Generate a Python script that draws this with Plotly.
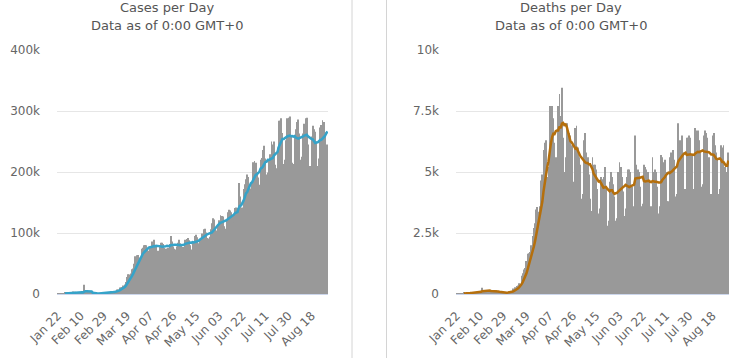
import pandas as pd
import plotly.graph_objects as go

# ---------------- data ----------------
start_date = "2020-01-22"
end_date = "2020-08-31"

# daily new cases (thousands)
cases_k = [
    # Jan 22-31
    0.1, 0.3, 0.3, 0.7, 0.7, 1.4, 1.7, 1.5, 1.7, 2.0,
    # Feb
    2.1, 2.6, 3.2, 3.9, 3.7, 3.2, 3.4, 2.7, 3.0, 2.5, 2.0, 2.0, 15.1, 5.1, 2.6,
    2.0, 1.9, 1.8, 0.4, 0.6, 1.0, 1.0, 0.6, 0.6, 0.9, 1.0, 1.3, 1.4, 1.8,
    # Mar
    2.3, 1.9, 2.5, 2.3, 2.9, 3.9, 4.0, 3.9, 4.0, 4.6, 7.2, 7.5, 10.8, 11.0, 11.0,
    14.0, 15.5, 19.5, 28.0, 32.5, 32.0, 33.5, 40.5, 42.0, 49.5, 62.0, 63.5, 64.0, 58.5, 60.0, 74.0,
    # Apr
    76, 80, 80.5, 80, 72, 71, 78, 74, 86, 89, 77, 77, 71, 71, 78,
    84, 84, 82, 76, 74, 74, 76, 82, 95, 86, 78, 74, 73, 78, 84,
    # May
    89, 83, 79, 77, 75, 89, 90, 92, 88, 80, 73, 84, 85, 95, 97,
    93, 83, 87, 92, 99, 106, 107, 101, 92, 91, 94, 106, 116, 124, 122, 108,
    # Jun
    104, 110, 121, 129, 128, 127, 111, 107, 123, 134, 138, 137, 134, 128, 117,
    141, 142, 141, 182, 160, 132, 142, 172, 180, 188, 196, 192, 173, 170, 183,
    # Jul
    216, 218, 215, 200, 191, 179, 220, 223, 236, 243, 222, 196, 199, 220, 229,
    250, 245, 250, 212, 206, 240, 284, 284, 288, 264, 213, 220, 252, 288, 289, 291,
    # Aug
    258, 215, 213, 259, 270, 282, 286, 263, 220, 225, 263, 279, 288, 289, 245,
    209, 210, 258, 276, 270, 266, 250, 210, 222, 273, 277, 285, 282, 265, 238, 245,
]

# 7-day moving average of cases (thousands), first 6 days empty
cases_ma_k = [None] * 6 + [
    0.7, 0.9, 1.1, 1.4,
    1.6, 1.9, 2.1, 2.4, 2.7, 3.0, 3.2, 3.2, 3.3, 3.2, 2.9, 2.7, 4.4, 4.6, 4.6,
    4.5, 4.4, 4.4, 4.1, 2.1, 1.5, 1.2, 1.0, 0.9, 0.7, 0.8, 0.9, 1.0, 1.1,
    1.3, 1.5, 1.7, 1.9, 2.2, 2.5, 2.8, 3.1, 3.4, 3.7, 4.4, 5.0, 6.0, 7.0, 8.0,
    9.4, 11.0, 12.8, 15.7, 18.8, 21.8, 25.0, 28.8, 32.6, 36.9, 41.7, 46.1, 50.7, 54.3, 57.1, 61.6,
    65.4, 68.0, 70.4, 72.7, 74.6, 76.2, 76.8, 76.5, 77.4, 78.6, 78.1, 78.9, 78.9, 77.9, 78.4,
    78.1, 77.4, 78.1, 78.0, 78.4, 78.9, 78.6, 78.3, 79.9, 80.4, 80.7, 80.7, 80.6, 80.9, 81.1,
    80.3, 79.9, 80.0, 80.4, 80.7, 82.3, 83.1, 83.6, 84.3, 84.4, 83.9, 85.1, 84.6, 85.3, 86.0,
    86.7, 87.1, 89.1, 90.3, 92.3, 93.9, 95.3, 96.4, 97.7, 98.3, 98.6, 99.6, 101.0, 103.4, 106.4, 108.7,
    110.6, 112.9, 115.0, 116.9, 117.4, 118.1, 118.6, 119.0, 120.9, 122.7, 124.0, 125.3, 126.3, 128.7, 130.1,
    132.7, 133.9, 134.3, 140.7, 144.4, 145.0, 148.6, 153.0, 158.4, 165.1, 167.2, 171.7, 177.6, 181.6, 183.1,
    188.3, 192.6, 195.3, 196.4, 199.0, 200.3, 205.6, 206.6, 209.1, 213.1, 216.3, 217.0, 219.9, 219.8, 220.7,
    222.7, 223.0, 227.0, 229.3, 230.3, 233.1, 241.0, 245.9, 252.0, 254.0, 254.1, 256.1, 257.9, 258.4, 259.1, 259.6,
    258.7, 259.0, 258.0, 259.0, 256.4, 255.4, 254.7, 255.4, 256.1, 257.9, 258.4, 259.7, 260.6, 261.0, 258.4,
    256.9, 254.7, 254.0, 253.6, 251.0, 247.7, 248.4, 248.6, 250.3, 252.4, 252.6, 254.7, 257.0, 259.1, 263.1, 266.4,
]

# daily new deaths
deaths = [
    # Jan 22-31
    17, 1, 8, 16, 14, 26, 49, 2, 38, 43,
    # Feb
    46, 57, 64, 65, 73, 73, 86, 89, 97, 108, 97, 254, 121, 143, 142,
    106, 98, 136, 115, 118, 109, 97, 150, 71, 52, 29, 44, 37, 58,
    # Mar
    73, 66, 72, 84, 80, 103, 103, 228, 201, 273, 330, 350, 442, 421, 750,
    850, 1000, 1070, 1350, 1650, 1670, 1720, 2000, 2380, 2700, 2900, 3460, 3570, 3370, 3600, 4650,
    # Apr
    4900, 5900, 6200, 6300, 4800, 5200, 7700, 7100, 7700, 7200, 6200, 5600, 5400, 7700, 8200,
    7300, 8450, 6400, 5000, 5600, 7000, 6700, 6600, 6500, 6100, 4400, 4600, 6800, 6900, 6000,
    # May
    5600, 5300, 3900, 4100, 6300, 6600, 5800, 5600, 4900, 3900, 3400, 5600, 5300, 5300, 5100,
    4300, 3300, 3500, 4800, 4700, 4800, 5200, 4400, 2800, 3000, 4600, 5000, 4800, 4500, 4000, 3000,
    # Jun
    3100, 5000, 5400, 5200, 4800, 4200, 3200, 3500, 4800, 5100, 5100, 5000, 4400, 3400, 3600,
    6500, 5300, 5100, 5000, 4400, 3600, 3700, 5300, 5200, 5100, 5000, 4600, 3300, 3600, 5600,
    # Jul
    5000, 5100, 5000, 4400, 3300, 3600, 5700, 5600, 5400, 5500, 5000, 3800, 3800, 5600, 5800,
    5700, 5900, 5500, 4000, 4100, 7000, 6300, 6300, 6500, 5800, 4300, 4300, 6400, 6400, 6500, 6400,
    # Aug
    5700, 4200, 4300, 6800, 6700, 6700, 6300, 5800, 4400, 4500, 6500, 6700, 6600, 6400, 5600,
    4100, 4100, 6500, 6600, 6100, 5800, 5500, 4100, 4300, 6100, 6000, 6100, 5200, 5000, 4100, 5800,
]

# 7-day moving average of deaths, first 6 days empty
deaths_ma = [None] * 6 + [
    19, 17, 22, 27,
    31, 37, 43, 45, 55, 60, 66, 72, 78, 84, 89, 115, 122, 130, 137,
    139, 137, 143, 123, 123, 118, 111, 118, 114, 102, 89, 79, 69, 63,
    52, 51, 54, 62, 67, 77, 83, 105, 124, 153, 188, 227, 275, 321, 395,
    488, 592, 698, 840, 1013, 1191, 1330, 1494, 1691, 1924, 2146, 2404, 2676, 2911, 3140, 3464,
    3779, 4207, 4599, 4989, 5193, 5421, 5857, 6171, 6429, 6571, 6557, 6671, 6700, 6700, 6857,
    6800, 6979, 7007, 6921, 6950, 6850, 6636, 6536, 6257, 6214, 6129, 5986, 5957, 5986, 5900,
    5771, 5657, 5586, 5514, 5443, 5400, 5371, 5371, 5314, 5314, 5214, 5114, 4929, 4857, 4786,
    4700, 4614, 4629, 4514, 4429, 4357, 4371, 4386, 4314, 4243, 4214, 4257, 4257, 4157, 4100, 4129,
    4143, 4200, 4257, 4314, 4357, 4386, 4414, 4471, 4443, 4400, 4386, 4414, 4443, 4471, 4486,
    4729, 4757, 4757, 4757, 4757, 4786, 4800, 4629, 4614, 4614, 4614, 4643, 4600, 4586, 4629,
    4600, 4600, 4600, 4571, 4571, 4571, 4586, 4671, 4714, 4786, 4871, 4943, 4971, 4957, 4986,
    5029, 5086, 5157, 5186, 5229, 5429, 5500, 5586, 5671, 5714, 5757, 5786, 5700, 5714, 5743, 5729,
    5714, 5700, 5700, 5757, 5800, 5829, 5814, 5829, 5857, 5886, 5843, 5843, 5829, 5843, 5814,
    5771, 5714, 5714, 5700, 5629, 5543, 5529, 5529, 5557, 5500, 5414, 5414, 5329, 5257, 5257, 5471,
]

tick_dates = ["2020-01-22", "2020-02-10", "2020-02-29", "2020-03-19", "2020-04-07", "2020-04-26",
              "2020-05-15", "2020-06-03", "2020-06-22", "2020-07-11", "2020-07-30", "2020-08-18"]
tick_labels = ["Jan 22", "Feb 10", "Feb 29", "Mar 19", "Apr 07", "Apr 26",
               "May 15", "Jun 03", "Jun 22", "Jul 11", "Jul 30", "Aug 18"]

cases_ticks = [0, 100, 200, 300, 400]
cases_tick_labels = ["0", "100k", "200k", "300k", "400k"]
deaths_ticks = [0, 2500, 5000, 7500, 10000]
deaths_tick_labels = ["0", "2.5k", "5k", "7.5k", "10k"]

titles_left = ["Cases per Day", "Data as of 0:00 GMT+0"]
titles_right = ["Deaths per Day", "Data as of 0:00 GMT+0"]

dates = pd.date_range(start_date, end_date, freq="D")

# ---------------- style ----------------
W, H = 740, 358
FONT = "DejaVu Sans"
BAR_COLOR = "#999999"
CASES_LINE = "#35a3c9"
DEATHS_LINE = "#b56f0c"
GRID = "#e6e6e6"
LABEL = "#666666"
TITLE = "#555555"

def px_x(p):
    return p / W

def px_y(p):
    return 1 - p / H

fig = go.Figure()
fig.add_trace(go.Bar(x=dates, y=cases_k, marker=dict(color=BAR_COLOR, line=dict(width=0)),
                     xaxis="x", yaxis="y", hoverinfo="skip"))
fig.add_trace(go.Scatter(x=dates, y=cases_ma_k, mode="lines",
                         line=dict(color=CASES_LINE, width=2.5),
                         xaxis="x", yaxis="y", hoverinfo="skip"))
fig.add_trace(go.Bar(x=dates, y=deaths, marker=dict(color=BAR_COLOR, line=dict(width=0)),
                     xaxis="x2", yaxis="y2", hoverinfo="skip"))
fig.add_trace(go.Scatter(x=dates, y=deaths_ma, mode="lines",
                         line=dict(color=DEATHS_LINE, width=2.5),
                         xaxis="x2", yaxis="y2", hoverinfo="skip"))

x_range = ["2020-01-21 12:00", "2020-08-31 12:00"]
xcommon = dict(type="date", range=x_range, tickmode="array", tickvals=tick_dates,
               ticktext=tick_labels, tickangle=-45, showgrid=False, zeroline=False,
               showline=True, linecolor="#ccd6eb", linewidth=1, ticks="",
               ticklabelstandoff=9,
               tickfont=dict(family=FONT, size=12, color=LABEL), fixedrange=True,
               automargin=False)
ycommon = dict(showgrid=True, gridcolor=GRID, gridwidth=1, zeroline=False, showline=False,
               ticks="", tickfont=dict(family=FONT, size=12, color=LABEL),
               ticklabelstandoff=16, fixedrange=True, automargin=False)

y_dom = [px_y(294), px_y(50)]

fig.update_layout(
    width=W, height=H, autosize=False,
    margin=dict(l=0, r=0, t=0, b=0, pad=0, autoexpand=False),
    paper_bgcolor="white", plot_bgcolor="white",
    showlegend=False, bargap=0.32,
    font=dict(family=FONT, color=LABEL),
    xaxis=dict(domain=[px_x(57), px_x(328)], anchor="y", **xcommon),
    yaxis=dict(domain=y_dom, anchor="x", range=[0, 400], tickmode="array",
               tickvals=cases_ticks, ticktext=cases_tick_labels, **ycommon),
    xaxis2=dict(domain=[px_x(456), px_x(729)], anchor="y2", **xcommon),
    yaxis2=dict(domain=y_dom, anchor="x2", range=[0, 10000], tickmode="array",
                tickvals=deaths_ticks, ticktext=deaths_tick_labels, **ycommon),
)

annotations = []
for cx, lines in ((167, titles_left), (571, titles_right)):
    for i, txt in enumerate(lines):
        annotations.append(dict(text=txt, x=px_x(cx), y=px_y(7.5 + 18 * i), xref="paper", yref="paper",
                                xanchor="center", yanchor="middle", showarrow=False,
                                font=dict(family=FONT, size=13, color=TITLE)))
fig.update_layout(annotations=annotations)

fig.update_layout(shapes=[
    dict(type="line", xref="paper", yref="paper", x0=px_x(352), x1=px_x(352), y0=0, y1=1,
         line=dict(color="#d4d4d4", width=1)),
    dict(type="line", xref="paper", yref="paper", x0=px_x(386.5), x1=px_x(386.5), y0=0, y1=1,
         line=dict(color="#d4d4d4", width=1)),
])

fig.write_html("out.html", config={"displayModeBar": False},
               post_script="document.body.style.margin='0';document.body.style.overflow='hidden';")
